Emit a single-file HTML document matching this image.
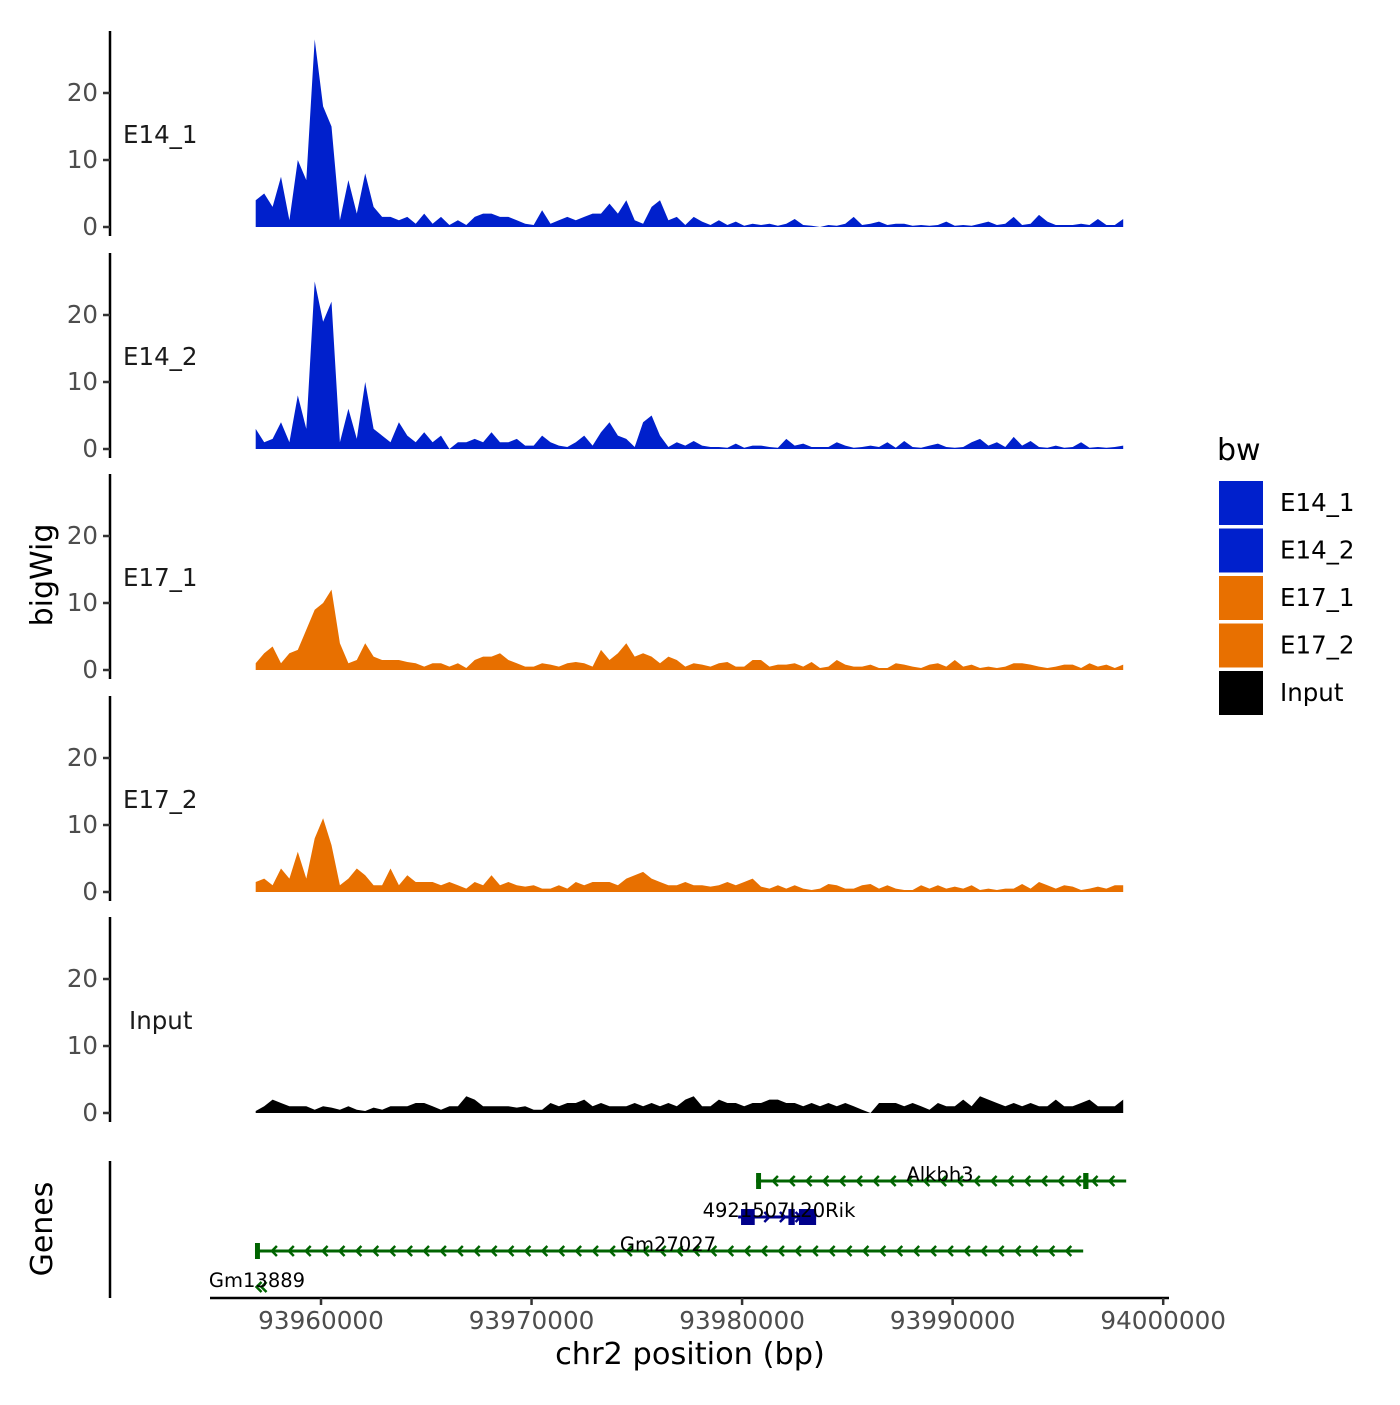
<!DOCTYPE html>
<html><head><meta charset="utf-8"><style>
html,body{margin:0;padding:0;background:#fff;}
svg text{font-family:"DejaVu Sans","Liberation Sans",sans-serif;}
</style></head><body>
<svg id="chart" width="1400" height="1400" viewBox="0 0 1400 1400" xmlns="http://www.w3.org/2000/svg"></svg>
<script>
const trackNames = ["E14_1","E14_2","E17_1","E17_2","Input"];
const trackColors = ["#0020CC","#0020CC","#E87000","#E87000","#000000"];
const binStart = 93956900;
const binStep = 400;
const e14_1 = [4,5,3,7.5,1,10,7,28,18,15,1,7,2,8,3,1.5,1.5,1,1.5,0.5,2,0.5,1.5,0.3,1,0.3,1.5,2,2,1.5,1.5,1,0.5,0.3,2.5,0.5,1,1.5,1,1.5,2,2,3.5,2,4,1,0.5,3,4,1,1.5,0.3,1.5,0.8,0.3,1,0.3,0.8,0.2,0.5,0.3,0.5,0.2,0.5,1.2,0.3,0.2,0,0.3,0.2,0.5,1.5,0.3,0.5,0.8,0.3,0.5,0.5,0.2,0.3,0.2,0.3,0.8,0.2,0.3,0.2,0.5,0.8,0.3,0.5,1.5,0.3,0.5,1.8,0.8,0.3,0.3,0.3,0.5,0.3,1.2,0.3,0.3,1.2];
const e14_2 = [3,1,1.5,4,1,8,3,25,19,22,1,6,1.5,10,3,2,1,4,2,1,2.5,1,2,0,1,1,1.5,1,2.5,1,1,1.5,0.5,0.5,2,1,0.5,0.3,1,2,0.5,2.5,4,2,1.5,0.3,4,5,2,0.3,1,0.5,1.2,0.5,0.3,0.3,0.2,0.8,0.2,0.5,0.5,0.3,0.2,1.5,0.5,0.8,0.3,0.3,0.3,1,0.5,0.2,0.3,0.5,0.3,1,0.2,1.2,0.3,0.2,0.5,0.8,0.3,0.2,0.3,1,1.5,0.5,1,0.3,1.8,0.5,1.2,0.3,0.2,0.5,0.2,0.3,1,0.2,0.3,0.2,0.3,0.5];
const e17_1 = [1,2.5,3.5,1,2.5,3,6,9,10,12,4,1,1.5,4,2,1.5,1.5,1.5,1.2,1,0.5,1,1,0.5,1,0.3,1.5,2,2,2.5,1.5,1,0.5,0.5,1,0.8,0.5,1,1.2,1,0.5,3,1.5,2.5,4,2,2.5,2,1,2,1.5,0.5,1,0.8,0.5,1,1.2,0.5,0.5,1.5,1.5,0.5,0.8,0.8,1,0.5,1.2,0.3,0.5,1.5,0.8,0.5,0.5,0.8,0.3,0.3,1,0.8,0.5,0.3,0.8,1,0.5,1.5,0.5,0.8,0.3,0.5,0.3,0.5,1,1,0.8,0.5,0.3,0.5,0.8,0.8,0.3,1,0.5,0.8,0.3,0.8];
const e17_2 = [1.5,2,1,3.5,2,6,2,8,11,7,1,2,3.5,2.5,1,1,3.5,1,2.5,1.5,1.5,1.5,1,1.5,1,0.5,1.5,1,2.5,1,1.5,1,0.8,1,0.5,0.5,1,0.5,1.5,1,1.5,1.5,1.5,1,2,2.5,3,2,1.5,1,1,1.5,1,1,0.8,1,1.5,1,1.5,2,0.8,0.5,1,0.5,1,0.5,0.3,0.5,1.2,1,0.5,0.5,1,1.2,0.5,1,0.5,0.3,0.3,1,0.5,1,0.5,0.8,0.5,1,0.3,0.5,0.3,0.5,0.5,1.2,0.5,1.5,1,0.5,1,0.8,0.3,0.5,0.8,0.5,1,1];
const input = [0.3,1,2,1.5,1,1,1,0.5,1,0.8,0.5,1,0.5,0.3,0.8,0.5,1,1,1,1.5,1.5,1,0.5,1,1,2.5,2,1,1,1,1,0.8,1,0.5,0.5,1.5,1,1.5,1.5,2,1,1.5,1,1,1,1.5,1,1.5,1,1.5,1,2,2.5,1,1,2,1.5,1.5,1,1.5,1.5,2,2,1.5,1.5,1,1.5,1,1.5,1,1.5,1,0.5,0,1.5,1.5,1.5,1,1.5,1,0.5,1.5,1,1,2,1,2.5,2,1.5,1,1.5,1,1.5,1,1,2,1,1,1.5,2,1,1,1,2];
const trackValues = [e14_1,e14_2,e17_1,e17_2,input];
const yTicks = [0,10,20];
const xTicks = [93960000,93970000,93980000,93990000,94000000];
const xTickLabels = ["93960000","93970000","93980000","93990000","94000000"];
const geneNames = ["Alkbh3","4921507L20Rik","Gm27027","Gm13889"];
const geneStarts = [93980665,93979810,93956865,93956700];
const geneEnds = [93998242,93983515,93996200,93957340];
const geneStrand = [-1,1,-1,-1];
const geneRow = [0,1,2,3];
const geneColors = ["#006400","#00008B","#006400","#006400"];
const geneExonStarts = [[93980665,93996200],[93979950,93982200,93982700],[93956865],[]];
const geneExonEnds = [[93980900,93996450],[93980600,93982500,93983515],[93957100],[]];

const NS="http://www.w3.org/2000/svg";
const svg=document.getElementById('chart');
function mk(tag,attrs,parent){const e=document.createElementNS(NS,tag);for(const k in attrs)e.setAttribute(k,attrs[k]);(parent||svg).appendChild(e);return e;}
function xScale(bp){return 321+(bp-93960000)*0.021055;}
const panelBase=[227,449,670,892,1113];
const pxPerUnit=6.7;
function yScale(p,v){return panelBase[p]-v*pxPerUnit;}

trackNames.forEach((nm,p)=>{
  const g=mk('g',{});
  
  
  const vals=trackValues[p];
  let d='M'+xScale(binStart).toFixed(1)+','+yScale(p,0);
  vals.forEach((v,i)=>{d+=' L'+xScale(binStart+i*binStep).toFixed(1)+','+yScale(p,v).toFixed(1);});
  d+=' L'+xScale(binStart+(vals.length-1)*binStep).toFixed(1)+','+yScale(p,0)+' Z';
  const a=mk('path',{d:d,fill:trackColors[p],stroke:'none'},g);
  
  
  const top=panelBase[p]-196, bot=panelBase[p]+9;
  const ax=mk('line',{x1:110,x2:110,y1:top,y2:bot,stroke:'#000','stroke-width':2.5},g);
  
  
  yTicks.forEach(t=>{
    const y=yScale(p,t);
    const tk=mk('line',{x1:103,x2:110,y1:y,y2:y,stroke:'#333','stroke-width':2.5},g);
    
    
    const tl=mk('text',{x:98,y:y+8,'text-anchor':'end','font-size':24.5,fill:'#4d4d4d'},g);
    tl.textContent=String(t);
    
    
  });
  const lb=mk('text',{x:nm==='Input'?129:123,y:panelBase[p]-84,'font-size':24.5,fill:'#1a1a1a'},g);
  lb.textContent=nm;
  
  
});

// Genes panel
const gp=mk('g',{});


const gax=mk('line',{x1:110,x2:110,y1:1161,y2:1298,stroke:'#000','stroke-width':2.5},gp);


const rowY=[1181,1217,1251,1287];
const labelPos=[[940,1181],[779,1217],[668,1251],[257,1287]];
geneNames.forEach((gn,k)=>{
  const g=mk('g',{},gp);
  
  
  const y=rowY[geneRow[k]], c=geneColors[k];
  const x1=xScale(geneStarts[k]), x2=xScale(geneEnds[k]);
  if(x2-x1>30) mk('line',{x1:x1,x2:x2,y1:y,y2:y,stroke:c,'stroke-width':3},g);
  const n=Math.max(2,Math.floor((x2-x1)/17));
  for(let i=1;i<=n;i++){
    const ax=(x2-x1>30)? x1+i*(x2-x1)/(n+1) : x1+i*5; const s=geneStrand[k]*5;
    mk('polyline',{points:(ax-s)+','+(y-5)+' '+ax+','+y+' '+(ax-s)+','+(y+5),fill:'none',stroke:c,'stroke-width':2.5},g);
  }
  geneExonStarts[k].forEach((es,j)=>{
    const ex1=xScale(es), ex2=xScale(geneExonEnds[k][j]);
    mk('rect',{x:ex1,y:y-8,width:Math.max(ex2-ex1,4),height:16,fill:c},g);
  });
  const t=mk('text',{x:labelPos[k][0],y:labelPos[k][1],'text-anchor':'middle','font-size':19.5,fill:'#000'},g);
  t.textContent=gn;
  
  
});

// X axis
const xa=mk('line',{x1:210,x2:1169,y1:1298,y2:1298,stroke:'#000','stroke-width':2.5});


xTicks.forEach((t,i)=>{
  const x=xScale(t);
  const tk=mk('line',{x1:x,x2:x,y1:1298,y2:1305,stroke:'#333','stroke-width':2.5});
  
  
  const tl=mk('text',{x:x,y:1329,'text-anchor':'middle','font-size':24.7,fill:'#4d4d4d'});
  tl.textContent=xTickLabels[i];
  
  
});
const xt=mk('text',{x:690,y:1364,'text-anchor':'middle','font-size':30.4,fill:'#000'});
xt.textContent='chr2 position (bp)';


const yt=mk('text',{x:0,y:0,'text-anchor':'middle','font-size':30,fill:'#000',transform:'translate(52,575) rotate(-90)'});
yt.textContent='bigWig';


const gt=mk('text',{x:0,y:0,'text-anchor':'middle','font-size':30,fill:'#000',transform:'translate(52,1229) rotate(-90)'});
gt.textContent='Genes';



// Legend
const lg=mk('g',{});


const lt=mk('text',{x:1217,y:460,'font-size':30,fill:'#000'},lg);
lt.textContent='bw';


trackNames.forEach((nm,i)=>{
  const e=mk('g',{},lg);
  
  
  const y=481+i*47.5;
  mk('rect',{x:1219,y:y,width:44,height:44,fill:trackColors[i]},e);
  const t=mk('text',{x:1280,y:y+30,'font-size':24.5,fill:'#000'},e);
  t.textContent=nm;
});
</script>
</body></html>
